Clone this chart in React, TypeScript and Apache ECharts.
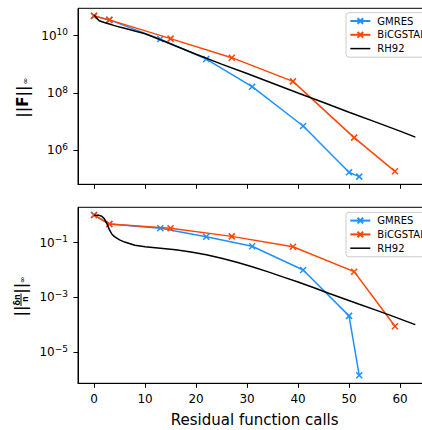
import React, { useEffect, useRef } from 'react';
import * as echarts from 'echarts';

const FONT = '"DejaVu Sans", sans-serif';

// Residual function calls (x) and values
const GMRES_CALLS = [0, 3, 13, 22, 31, 41, 50, 52];
const GMRES_F = [4.9e10, 3.55e10, 7.6e9, 1.53e9, 1.66e8, 7.07e6, 1.71e5, 1.21e5];
const GMRES_DN = [1.03, 0.48, 0.335, 0.165, 0.074, 0.01, 2.1e-4, 1.4e-6];

const BICG_CALLS = [0, 3, 15, 27, 39, 51, 59];
const BICG_F = [4.9e10, 3.55e10, 7.9e9, 1.71e9, 2.55e8, 2.77e6, 1.85e5];
const BICG_DN = [1.03, 0.48, 0.335, 0.17, 0.0708, 0.0087, 8.7e-5];

const RH92_F_CALLS = [0, 1, 2, 3, 4, 5, 6, 8, 10, 13, 16, 20, 25, 30, 35, 40, 45, 50, 55, 60, 63];
const RH92_F = [5.25e10, 3.31e10, 2.88e10, 2.57e10, 2.24e10, 2.0e10, 1.82e10, 1.45e10, 1.17e10, 7.24e9, 4.37e9, 2.24e9, 1.02e9, 4.79e8, 2.19e8, 1.0e8, 4.68e7, 2.14e7, 1.0e7, 4.68e6, 2.88e6];

const RH92_DN_CALLS = [0, 1, 1.5, 2, 2.5, 3, 3.5, 4, 5, 6, 8, 10, 13, 16, 19, 22, 25, 28, 31, 34, 37, 40, 43, 46, 49, 52, 55, 58, 61, 63];
const RH92_DN = [1.0, 1.0, 0.93, 0.76, 0.5, 0.3, 0.204, 0.166, 0.126, 0.105, 0.081, 0.071, 0.063, 0.055, 0.0457, 0.0363, 0.0269, 0.0191, 0.0132, 0.0087, 0.0056, 0.00363, 0.00229, 0.00141, 8.9e-4, 5.6e-4, 3.55e-4, 2.24e-4, 1.38e-4, 1.0e-4];

const X_TICKS = [0, 10, 20, 30, 40, 50, 60];
const F_TICK_EXPONENTS = [6, 8, 10];
const DN_TICK_EXPONENTS = [-5, -3, -1];

const SERIES_NAMES = ['GMRES', 'BiCGSTAB', 'RH92'];
const COLORS = ['#1E90FF', '#FF4500', '#000000'];

const pairs = (xs: number[], ys: number[]) => xs.map((x, i) => [x, Math.log10(ys[i])]);

const CROSS = 'path://M0 0L10 10M10 0L0 10';

function makeSeries(idx: number, name: string, xs: number[], ys: number[], marker: boolean) {
  const c = COLORS[SERIES_NAMES.indexOf(name)];
  return {
    type: 'line',
    name,
    xAxisIndex: idx,
    yAxisIndex: idx,
    data: pairs(xs, ys),
    showSymbol: marker,
    symbol: marker ? CROSS : 'none',
    symbolSize: 6,
    lineStyle: { color: c, width: 1.5 },
    itemStyle: { color: c, borderColor: c, borderWidth: marker ? 1.5 : 0 },
    emphasis: { disabled: true },
    z: 2 + SERIES_NAMES.indexOf(name),
  };
}

const expLabel = (v: number) => {
  const e = Math.round(v);
  const s = e < 0 ? '\u2212' + Math.abs(e) : String(e);
  return `{b|10}{s|${s}}`;
};

const labelRich = {
  b: { fontSize: 12, fontFamily: FONT, color: '#000', lineHeight: 16, verticalAlign: 'middle' },
  s: { fontSize: 9, fontFamily: FONT, color: '#000', lineHeight: 9, verticalAlign: 'top' },
};

const GRID_W = 353.4;

export default function App() {
  const ref = useRef<HTMLDivElement>(null);
  useEffect(() => {
    if (!ref.current) return;
    const chart = echarts.init(ref.current, undefined, { renderer: 'svg' });
    const xAxisBase = (idx: number) => ({
      type: 'value',
      gridIndex: idx,
      min: -3.15,
      max: 66.15,
      axisLine: { show: true, onZero: false, lineStyle: { color: '#000', width: 1 } },
      axisTick: { show: true, customValues: X_TICKS, length: 4.5, lineStyle: { color: '#000', width: 1 } },
      axisLabel: {
        show: idx === 1,
        customValues: X_TICKS,
        fontSize: 12,
        fontFamily: FONT,
        color: '#000',
        margin: 9.5,
      },
      splitLine: { show: false },
    });
    const yAxisBase = (idx: number, min: number, max: number, ticks: number[]) => ({
      type: 'value',
      gridIndex: idx,
      min,
      max,
      axisLine: { show: true, onZero: false, lineStyle: { color: '#000', width: 1 } },
      axisTick: { show: true, customValues: ticks, length: 4.5, lineStyle: { color: '#000', width: 1 } },
      axisLabel: {
        customValues: ticks,
        formatter: expLabel,
        rich: labelRich,
        margin: 10,
      },
      splitLine: { show: false },
    });
    const legendBase = (top: number) => ({
      orient: 'vertical',
      left: 346,
      top,
      data: [
        { name: 'GMRES' },
        { name: 'BiCGSTAB' },
        { name: 'RH92', icon: 'path://M0 0L20 0L20 1.5L0 1.5Z', itemStyle: { color: '#000', borderWidth: 0 } },
      ],
      itemWidth: 20,
      itemHeight: 7,
      itemGap: 3.8,
      padding: [3.3, 8, 3.6, 3.3],
      borderColor: '#cccccc',
      borderWidth: 1,
      borderRadius: 3,
      backgroundColor: 'rgba(255,255,255,0.8)',
      selectedMode: false,
      textStyle: { fontSize: 10, fontFamily: FONT, color: '#000', padding: [0, 0, 0, 2] },
    });
    chart.setOption({
      animation: false,
      backgroundColor: '#ffffff',
      grid: [
        { left: 78, top: 8.3, width: GRID_W, height: 176, show: true, borderColor: '#000', borderWidth: 1, outerBoundsMode: 'none', containLabel: false },
        { left: 78, top: 207.3, width: GRID_W, height: 176, show: true, borderColor: '#000', borderWidth: 1, outerBoundsMode: 'none', containLabel: false },
      ],
      xAxis: [
        xAxisBase(0),
        {
          ...xAxisBase(1),
          name: 'Residual function calls',
          nameLocation: 'middle',
          nameGap: 29,
          nameTextStyle: { fontSize: 15, fontFamily: FONT, color: '#000' },
        },
      ],
      yAxis: [
        yAxisBase(0, 4.815, 10.955, F_TICK_EXPONENTS),
        yAxisBase(1, -6.145, 0.294, DN_TICK_EXPONENTS),
      ],
      legend: [legendBase(12.7), legendBase(212.3)],
      series: [
        makeSeries(0, 'GMRES', GMRES_CALLS, GMRES_F, true),
        makeSeries(0, 'BiCGSTAB', BICG_CALLS, BICG_F, true),
        makeSeries(0, 'RH92', RH92_F_CALLS, RH92_F, false),
        makeSeries(1, 'GMRES', GMRES_CALLS, GMRES_DN, true),
        makeSeries(1, 'BiCGSTAB', BICG_CALLS, BICG_DN, true),
        makeSeries(1, 'RH92', RH92_DN_CALLS, RH92_DN, false),
      ],
      graphic: [
        {
          type: 'group',
          x: 23.2,
          y: 101.7,
          rotation: Math.PI / 2,
          children: [
            { type: 'text', x: 0, y: 0, style: { text: '||F||', fontSize: 15, fontWeight: 'bold', fontFamily: FONT, fill: '#000', align: 'center', verticalAlign: 'middle' } },
            { type: 'text', x: 20.5, y: 2, style: { text: '\u221E', fontSize: 8, fontFamily: FONT, fill: '#000', align: 'center', verticalAlign: 'middle' } },
          ],
        },
        {
          type: 'group',
          x: 21,
          y: 299.5,
          rotation: Math.PI / 2,
          children: [
            { type: 'text', x: -11.5, y: 0, style: { text: '||', fontSize: 15, fontWeight: 'bold', fontFamily: FONT, fill: '#000', align: 'center', verticalAlign: 'middle' } },
            { type: 'text', x: -0.5, y: -4, style: { text: '\u03B4n', fontSize: 8, fontWeight: 'bold', fontFamily: FONT, fill: '#000', align: 'center', verticalAlign: 'middle' } },
            { type: 'line', shape: { x1: -6.5, y1: 0, x2: 6, y2: 0 }, style: { stroke: '#000', lineWidth: 1 } },
            { type: 'text', x: 0.3, y: 4.5, style: { text: 'n', fontSize: 8, fontWeight: 'bold', fontFamily: FONT, fill: '#000', align: 'center', verticalAlign: 'middle' } },
            { type: 'text', x: 11.3, y: 0, style: { text: '||', fontSize: 15, fontWeight: 'bold', fontFamily: FONT, fill: '#000', align: 'center', verticalAlign: 'middle' } },
            { type: 'text', x: 19.5, y: 1.7, style: { text: '\u221E', fontSize: 8, fontFamily: FONT, fill: '#000', align: 'center', verticalAlign: 'middle' } },
          ],
        },
      ],
    });
    return () => chart.dispose();
  }, []);
  return <div ref={ref} style={{ position: 'absolute', left: 0, top: 0, width: 422, height: 430 }} />;
}
